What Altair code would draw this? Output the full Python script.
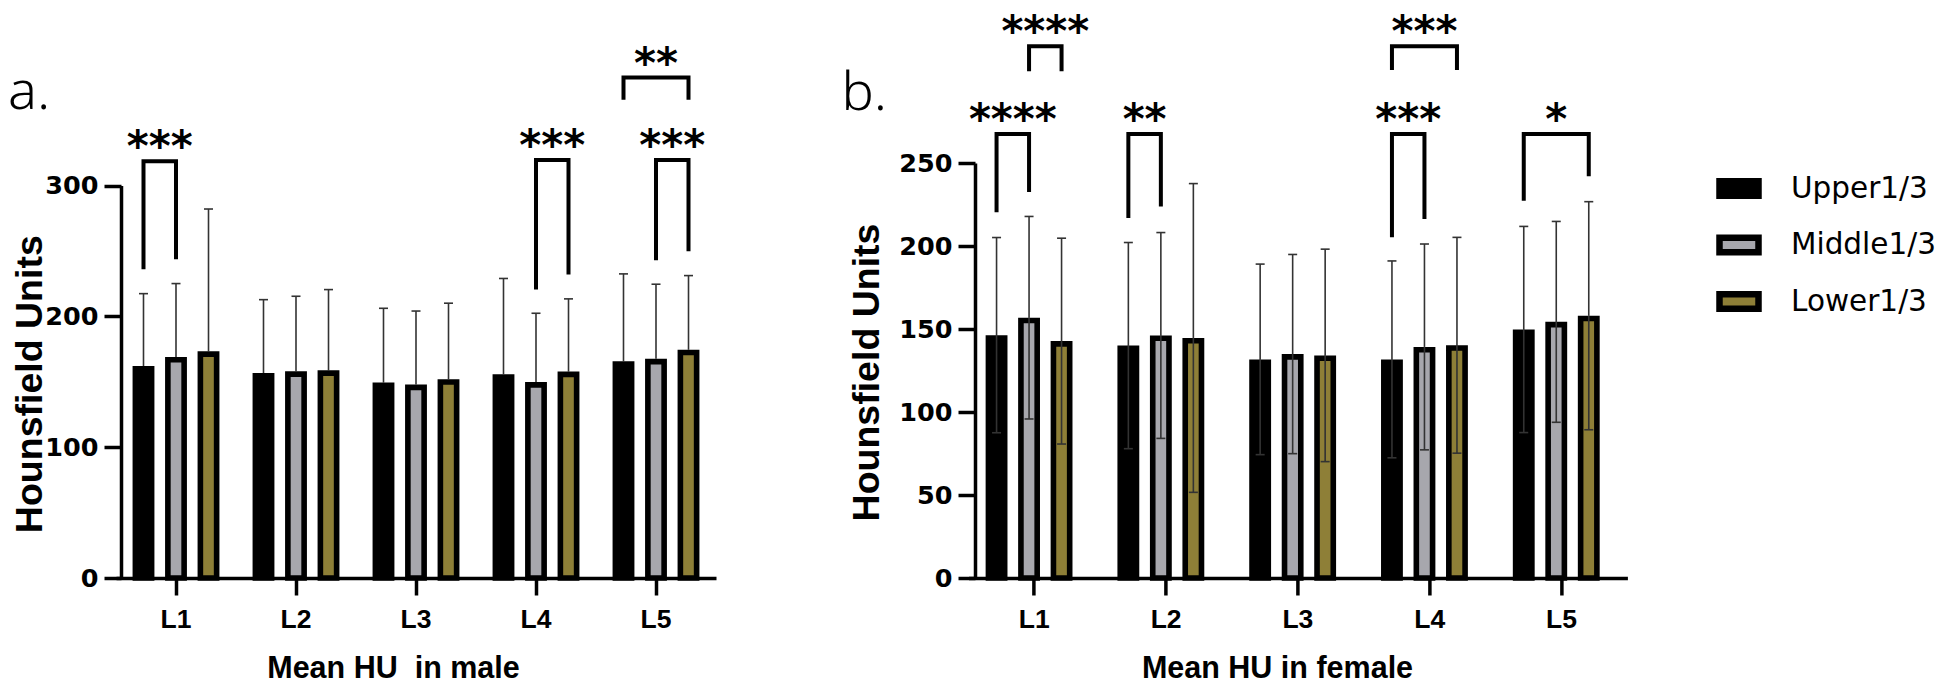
import altair as alt
import pandas as pd

levels = ["L1", "L2", "L3", "L4", "L5"]
series = ["Upper1/3", "Middle1/3", "Lower1/3"]
slots = ["Upper1/3", "UM", "Middle1/3", "ML", "Lower1/3"]
colors = ["#000000", "#a7a7ad", "#8e7f37"]

male_upper_mean = [162.1, 156.7, 149.4, 155.8, 165.7]
male_middle_mean = [169.0, 158.0, 147.9, 149.8, 167.6]
male_lower_mean = [173.3, 158.8, 152.0, 157.8, 174.5]
male_upper_sd = [55.3, 56.1, 56.8, 73.2, 66.8]
male_middle_sd = [56.1, 57.4, 56.2, 52.6, 57.0]
male_lower_sd = [108.8, 61.7, 58.1, 55.6, 56.7]

female_upper_mean = [146.3, 140.0, 131.7, 131.7, 149.7]
female_middle_mean = [156.8, 146.1, 134.9, 139.2, 154.3]
female_lower_mean = [142.7, 144.6, 134.1, 140.2, 158.0]
female_upper_sd = [58.8, 62.1, 57.4, 59.3, 62.1]
female_middle_sd = [61.0, 62.0, 60.0, 62.0, 60.5]
female_lower_sd = [62.0, 93.0, 64.0, 65.0, 68.7]

# level, from series, to series, bracket top, left leg end, right leg end, label
male_brackets = [
    ("L1", "Upper1/3", "Middle1/3", 318.6, 236.0, 243.7, "***"),
    ("L4", "Middle1/3", "Lower1/3", 319.6, 220.5, 232.0, "***"),
    ("L5", "Middle1/3", "Lower1/3", 319.6, 243.0, 249.8, "***"),
    ("L5", "Upper1/3", "Lower1/3", 382.6, 365.6, 365.6, "**"),
]
female_brackets = [
    ("L1", "Upper1/3", "Middle1/3", 267.4, 220.4, 232.6, "****"),
    ("L1", "Middle1/3", "Lower1/3", 320.4, 305.3, 305.3, "****"),
    ("L2", "Upper1/3", "Middle1/3", 267.4, 216.9, 223.8, "**"),
    ("L4", "Upper1/3", "Middle1/3", 267.4, 205.3, 216.2, "***"),
    ("L4", "Upper1/3", "Lower1/3", 320.4, 306.0, 306.0, "***"),
    ("L5", "Upper1/3", "Lower1/3", 267.5, 227.3, 242.0, "*"),
]

FONT = "Liberation Sans"
WIDE = "DejaVu Sans"


def bar_table(means, sds):
    rows = []
    for s, m_list, sd_list in zip(series, means, sds):
        for lv, m, sd in zip(levels, m_list, sd_list):
            rows.append({"level": lv, "series": s, "slot": s, "mean": m,
                         "hi": m + sd, "lo": m - sd})
    return pd.DataFrame(rows)


def bracket_tables(brackets):
    lines, texts = [], []
    for i, (lv, s1, s2, top, l1, l2, lab) in enumerate(brackets):
        pts = [(s1, l1), (s1, top), (s2, top), (s2, l2)]
        for k, (s, v) in enumerate(pts):
            lines.append({"bid": i, "ord": k, "level": lv, "slot": s, "v": v})
        mid = slots[series.index(s1) + series.index(s2)]
        texts.append({"level": lv, "slot": mid, "v": top, "label": lab})
    return pd.DataFrame(lines), pd.DataFrame(texts)


H = 415


def panel(bars, brackets, width, pin, ymax, rtop, yvals, yoffset, ytx, yty,
          xtitle, xtx, letter, letter_dx, letter_dy, lower_err):
    lines, texts = bracket_tables(brackets)
    xs = alt.Scale(domain=levels, paddingInner=pin, paddingOuter=pin / 2)
    xo = alt.Scale(domain=slots, paddingInner=0, paddingOuter=1)
    ys = alt.Scale(domain=[0, ymax], range=[H, rtop], nice=False, zero=True)
    xaxis = alt.Axis(title=xtitle, labelAngle=0, labelFont=FONT, labelFontSize=26.5,
                     labelFontWeight="bold", labelColor="black", labelBaseline="alphabetic",
                     labelPadding=32.7, tickSize=17, tickWidth=3.5, tickColor="black",
                     domainWidth=3.5, domainColor="black", titleFont=FONT,
                     titleFontSize=30.5, titleFontWeight="bold", titleColor="black",
                     titleX=xtx, titleY=99, titleBaseline="alphabetic",
                     titleAlign="center", grid=False)
    yaxis = alt.Axis(title="Hounsfield Units", values=yvals, labelFont=WIDE,
                     labelFontSize=25.5, labelFontWeight="bold", labelColor="black",
                     labelPadding=6, tickSize=17, tickWidth=3.5, tickColor="black",
                     domainWidth=3.5, domainColor="black", offset=yoffset,
                     titleFont=FONT, titleFontSize=37.5, titleFontWeight="bold",
                     titleColor="black", titleX=ytx, titleY=yty,
                     titleBaseline="alphabetic", titleAlign="center", titleAngle=270,
                     grid=False)
    X = alt.X("level:N", scale=xs, axis=xaxis, sort=levels)
    XO = alt.XOffset("slot:N", scale=xo, sort=slots)

    def Y(field, **kw):
        return alt.Y(field, scale=ys, axis=yaxis, title="Hounsfield Units", **kw)

    base = alt.Chart(bars)
    bar = base.mark_bar(stroke="black", strokeWidth=5.6, yOffset=2.8,
                        strokeJoin="miter").encode(
        x=X, xOffset=XO,
        y=Y("mean:Q", stack=None),
        color=alt.Color("series:N", scale=alt.Scale(domain=series, range=colors),
                        legend=alt.Legend(orient="none", legendX=1600, legendY=2.5,
                                          title=None,
                                          symbolType="M-1,-0.37H1V0.37H-1Z",
                                          symbolSize=1521, symbolStrokeColor="black",
                                          symbolStrokeWidth=6.5, symbolOpacity=1,
                                          labelFont=WIDE, labelFontSize=29.5,
                                          labelColor="black", labelOffset=29,
                                          rowPadding=12.5, padding=0)))
    err_up = base.mark_rule(color="#333333", strokeWidth=1.6).encode(
        x=X, xOffset=XO, y=Y("mean:Q"), y2="hi:Q")
    cap_up = base.mark_point(shape="M-1,0H1", size=81, filled=False, strokeWidth=1.6,
                             color="#333333", opacity=1).encode(
        x=X, xOffset=XO, y=Y("hi:Q"))
    layers = [err_up, bar, cap_up]
    if lower_err:
        err_lo = base.mark_rule(color="#333333", strokeWidth=1.6).encode(
            x=X, xOffset=XO, y=Y("lo:Q"), y2="mean:Q")
        cap_lo = base.mark_point(shape="M-1,0H1", size=81, filled=False,
                                 strokeWidth=1.6, color="#333333", opacity=1).encode(
            x=X, xOffset=XO, y=Y("lo:Q"))
        layers += [err_lo, cap_lo]
    br = alt.Chart(lines).mark_line(color="black", strokeWidth=4, strokeJoin="miter",
                                    strokeCap="butt").encode(
        x=X, xOffset=XO, y=Y("v:Q"), detail="bid:N", order="ord:Q")
    tx = alt.Chart(texts).mark_text(font=WIDE, fontSize=42, fontWeight="bold",
                                    baseline="alphabetic", dy=0, color="black").encode(
        x=X, xOffset=XO, y=Y("v:Q"), text="label:N")
    layers += [br, tx]
    return alt.layer(*layers).properties(
        width=width, height=H,
        title=alt.TitleParams(letter, anchor="start", frame="group", font="Noto Sans",
                              fontSize=54, fontWeight=300, color="black",
                              dx=letter_dx, dy=letter_dy, offset=0))


male = bar_table([male_upper_mean, male_middle_mean, male_lower_mean],
                 [male_upper_sd, male_middle_sd, male_lower_sd])
female = bar_table([female_upper_mean, female_middle_mean, female_lower_mean],
                   [female_upper_sd, female_middle_sd, female_lower_sd])

pa = panel(male, male_brackets, 600, 0.052, 300, 22.6, [0, 100, 200, 300], -5,
           -80, 220.7, "Mean HU\u00a0 in male", 277, "a.", -108, 76, False)
pb = panel(female, female_brackets, 659, 0.0573, 250, 0, [0, 50, 100, 150, 200, 250],
           -6.6, -97, 209, "Mean HU in female", 308.6, "b.", -127, 109, True)

chart = alt.hconcat(pa, pb, spacing=252.4, bounds="flush",
                    padding={"left": 0, "top": 4, "right": 0, "bottom": 40},
                    background="white").configure_view(stroke=None)

chart.save("out.html", embed_options={"renderer": "svg", "actions": False})
